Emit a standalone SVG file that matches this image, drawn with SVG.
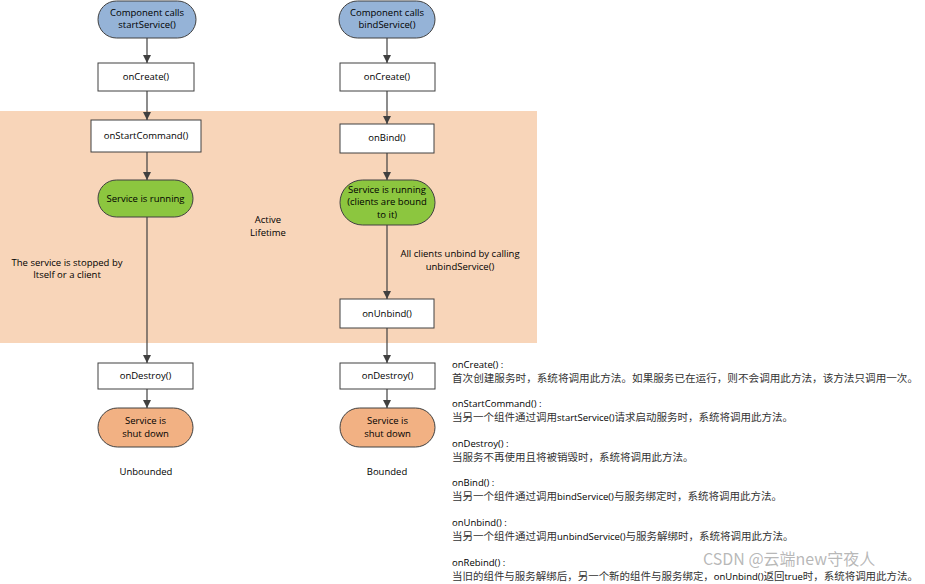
<svg xmlns="http://www.w3.org/2000/svg" width="925" height="584" viewBox="0 0 925 584">
<defs>
<marker id="ah" markerWidth="10" markerHeight="10" refX="9" refY="5" orient="auto" markerUnits="userSpaceOnUse">
<path d="M1,1 L9,5 L1,9 Z" fill="#404040"/>
</marker>
<style>
.box{fill:#fff;stroke:#404040;stroke-width:1}
.start{fill:#95B3D7;stroke:#404040;stroke-width:1}
.run{fill:#8CC63F;stroke:#404040;stroke-width:1}
.end{fill:#F2B183;stroke:#404040;stroke-width:1}
.t{font-family:"Open Sans","Liberation Sans",sans-serif;font-size:9.5px;fill:#000;text-anchor:middle}
.d{font-family:"Open Sans","Liberation Sans",sans-serif;font-size:9.5px;fill:#000}
.cn{font-family:"Noto Sans CJK SC","Liberation Sans",sans-serif;font-size:10.5px;fill:#333}
.c{stroke:#404040;stroke-width:1.2;fill:none;marker-end:url(#ah)}
</style>
</defs>
<rect x="0" y="0" width="925" height="584" fill="#fff"/>
<rect id="active-lifetime" x="0" y="111" width="537" height="232" fill="#F8D5B9"/>
<text class="t" x="268" y="223">Active</text>
<text class="t" x="268" y="236">Lifetime</text>

<g id="connectors">
<line class="c" x1="147" y1="38" x2="147" y2="63"/>
<line class="c" x1="147" y1="91" x2="147" y2="120"/>
<line class="c" x1="147" y1="152" x2="147" y2="180"/>
<line class="c" x1="147" y1="217" x2="147" y2="363"/>
<line class="c" x1="147" y1="389" x2="147" y2="408"/>
<line class="c" x1="387" y1="38" x2="387" y2="63"/>
<line class="c" x1="387" y1="91" x2="387" y2="124"/>
<line class="c" x1="387" y1="153" x2="387" y2="180"/>
<line class="c" x1="387" y1="225" x2="387" y2="299"/>
<line class="c" x1="387" y1="328" x2="387" y2="363"/>
<line class="c" x1="387" y1="389" x2="387" y2="408"/>
<text class="t" x="67" y="266">The service is stopped by</text>
<text class="t" x="67" y="278">Itself or a client</text>
<text class="t" x="460" y="257">All clients unbind by calling</text>
<text class="t" x="460" y="270">unbindService()</text>
</g>

<g id="start-left"><rect class="start" x="98" y="1" width="98" height="37" rx="18.5"/>
<text class="t" x="147" y="16">Component calls</text><text class="t" x="147" y="28">startService()</text></g>
<g id="start-right"><rect class="start" x="339" y="1" width="96" height="37" rx="18.5"/>
<text class="t" x="387" y="16">Component calls</text><text class="t" x="387" y="28">bindService()</text></g>

<g id="oncreate-left"><rect class="box" x="98" y="63" width="96" height="28"/><text class="t" x="146" y="80">onCreate()</text></g>
<g id="oncreate-right"><rect class="box" x="340" y="63" width="95" height="28"/><text class="t" x="387" y="80">onCreate()</text></g>

<g id="onstartcommand"><rect class="box" x="91" y="120" width="110" height="32"/><text class="t" x="146" y="139">onStartCommand()</text></g>
<g id="onbind"><rect class="box" x="340" y="124" width="94" height="29"/><text class="t" x="387" y="141">onBind()</text></g>

<g id="running-left"><rect class="run" x="98" y="180" width="95" height="37" rx="18.5"/><text class="t" x="145.5" y="202">Service is running</text></g>
<g id="running-right"><rect class="run" x="340" y="180" width="95" height="45" rx="22.5"/>
<text class="t" x="387" y="193">Service is running</text><text class="t" x="387" y="205">(clients are bound</text><text class="t" x="387" y="218">to it)</text></g>

<g id="onunbind"><rect class="box" x="340" y="299" width="94" height="29"/><text class="t" x="387" y="317">onUnbind()</text></g>

<g id="ondestroy-left"><rect class="box" x="98" y="363" width="95" height="26"/><text class="t" x="145.5" y="379">onDestroy()</text></g>
<g id="ondestroy-right"><rect class="box" x="340" y="363" width="95" height="26"/><text class="t" x="387.5" y="379">onDestroy()</text></g>

<g id="shutdown-left"><rect class="end" x="98" y="408" width="95" height="39" rx="19.5"/>
<text class="t" x="145.5" y="424">Service is</text><text class="t" x="145.5" y="437">shut down</text></g>
<g id="shutdown-right"><rect class="end" x="340" y="408" width="95" height="39" rx="19.5"/>
<text class="t" x="387.5" y="424">Service is</text><text class="t" x="387.5" y="437">shut down</text></g>

<text class="t" x="146" y="475">Unbounded</text>
<text class="t" x="387" y="475">Bounded</text>

<g id="notes">
<text class="d" x="452" y="368">onCreate() :</text>
<text class="cn" x="452" y="382" textLength="466" lengthAdjust="spacingAndGlyphs">首次创建服务时，系统将调用此方法。如果服务已在运行，则不会调用此方法，该方法只调用一次。</text>
<text class="d" x="452" y="407">onStartCommand() :</text>
<text class="cn" x="452" y="421">当另一个组件通过调用<tspan class="d">startService()</tspan>请求启动服务时，系统将调用此方法。</text>
<text class="d" x="452" y="447">onDestroy() :</text>
<text class="cn" x="452" y="461">当服务不再使用且将被销毁时，系统将调用此方法。</text>
<text class="d" x="452" y="486">onBind() :</text>
<text class="cn" x="452" y="500">当另一个组件通过调用<tspan class="d">bindService()</tspan>与服务绑定时，系统将调用此方法。</text>
<text class="d" x="452" y="526">onUnbind() :</text>
<text class="cn" x="452" y="540">当另一个组件通过调用<tspan class="d">unbindService()</tspan>与服务解绑时，系统将调用此方法。</text>
<text class="d" x="452" y="566">onRebind() :</text>
<text class="cn" x="452" y="580" textLength="466" lengthAdjust="spacingAndGlyphs">当旧的组件与服务解绑后，另一个新的组件与服务绑定，<tspan class="d">onUnbind()</tspan>返回<tspan class="d">true</tspan>时，系统将调用此方法。</text>
</g>
<text id="watermark" x="703" y="565" font-family="'Noto Sans CJK SC','Liberation Sans',sans-serif" font-size="16" fill="#888" fill-opacity="0.6">CSDN @云端new守夜人</text>
</svg>
